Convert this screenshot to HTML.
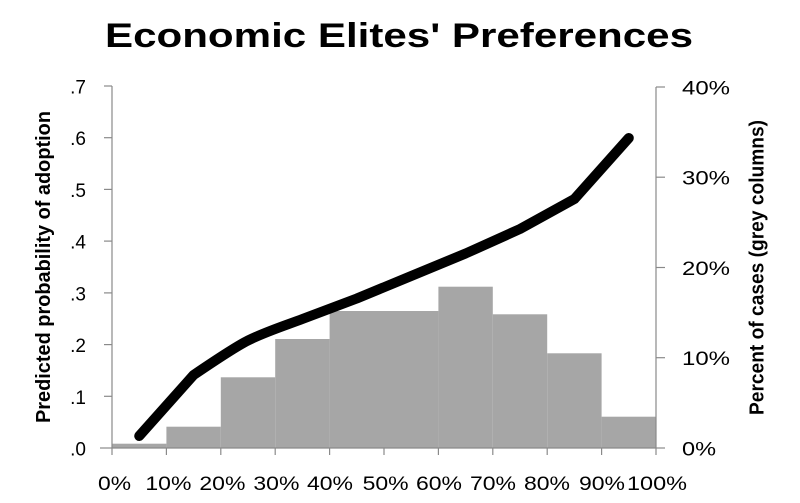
<!DOCTYPE html>
<html>
<head>
<meta charset="utf-8">
<style>
  html, body { margin:0; padding:0; background:#fff; }
  svg { display:block; }
  text { font-family: "Liberation Sans", "DejaVu Sans", sans-serif; fill:#000; }
  .tk { font-size:19px; fill:#111; }
</style>
</head>
<body>
<svg width="800" height="503" viewBox="0 0 800 503" xmlns="http://www.w3.org/2000/svg">
  <rect x="0" y="0" width="800" height="503" fill="#fff"/>

  <!-- Title -->
  <text x="105" y="47" font-size="34" font-weight="bold" textLength="588" lengthAdjust="spacingAndGlyphs">Economic Elites' Preferences</text>

  <!-- Bars -->
  <g fill="#a6a6a6">
    <rect x="112" y="443.7" width="54.4" height="4.3"/>
    <rect x="166.4" y="426.7" width="54.4" height="21.3"/>
    <rect x="220.8" y="377.3" width="54.4" height="70.7"/>
    <rect x="275.2" y="339" width="54.4" height="109"/>
    <rect x="329.6" y="311" width="108.8" height="137"/>
    <rect x="438.4" y="286.7" width="54.4" height="161.3"/>
    <rect x="492.8" y="314.3" width="54.4" height="133.7"/>
    <rect x="547.2" y="353.3" width="54.4" height="94.7"/>
    <rect x="601.6" y="416.7" width="54.4" height="31.3"/>
  </g>

  <!-- Axes -->
  <g stroke="#8a8a8a" stroke-width="1.2" fill="none">
    <line x1="112" y1="86" x2="112" y2="448"/>
    <line x1="104" y1="86" x2="112" y2="86"/>
    <line x1="104" y1="137.7" x2="112" y2="137.7"/>
    <line x1="104" y1="189.4" x2="112" y2="189.4"/>
    <line x1="104" y1="241.1" x2="112" y2="241.1"/>
    <line x1="104" y1="292.9" x2="112" y2="292.9"/>
    <line x1="104" y1="344.6" x2="112" y2="344.6"/>
    <line x1="104" y1="396.3" x2="112" y2="396.3"/>
    <line x1="100" y1="448" x2="112" y2="448"/>
    <line x1="112" y1="448" x2="656" y2="448"/>
    <line x1="112" y1="448" x2="112" y2="455"/>
    <line x1="166.4" y1="448" x2="166.4" y2="455"/>
    <line x1="220.8" y1="448" x2="220.8" y2="455"/>
    <line x1="275.2" y1="448" x2="275.2" y2="455"/>
    <line x1="329.6" y1="448" x2="329.6" y2="455"/>
    <line x1="384" y1="448" x2="384" y2="455"/>
    <line x1="438.4" y1="448" x2="438.4" y2="455"/>
    <line x1="492.8" y1="448" x2="492.8" y2="455"/>
    <line x1="547.2" y1="448" x2="547.2" y2="455"/>
    <line x1="601.6" y1="448" x2="601.6" y2="455"/>
    <line x1="656" y1="448" x2="656" y2="455"/>
    <line x1="656" y1="87" x2="656" y2="448"/>
    <line x1="656" y1="87" x2="665" y2="87"/>
    <line x1="656" y1="177.2" x2="665" y2="177.2"/>
    <line x1="656" y1="267.5" x2="665" y2="267.5"/>
    <line x1="656" y1="357.7" x2="665" y2="357.7"/>
    <line x1="656" y1="448" x2="665" y2="448"/>
  </g>

  <!-- Line series -->
  <path fill="none" stroke="#000" stroke-width="10" stroke-linecap="round" stroke-linejoin="round"
    d="M139.2,436 L193.6,375 C212,362.5 236,346.5 248,340.5 C266,331.5 288,324.5 302.4,319 L356.8,298.5 L411.2,276 L465.6,253.5 L520,229 L574.4,199 L628.8,138"/>

  <!-- Left tick labels -->
  <g class="tk" text-anchor="end">
    <text x="86" y="93.5">.7</text>
    <text x="86" y="145.2">.6</text>
    <text x="86" y="196.9">.5</text>
    <text x="86" y="248.6">.4</text>
    <text x="86" y="300.4">.3</text>
    <text x="86" y="352.1">.2</text>
    <text x="86" y="403.8">.1</text>
    <text x="86" y="455.5">.0</text>
  </g>

  <!-- Right tick labels -->
  <g class="tk">
    <text x="682" y="94.5" textLength="48" lengthAdjust="spacingAndGlyphs">40%</text>
    <text x="682" y="184.7" textLength="48" lengthAdjust="spacingAndGlyphs">30%</text>
    <text x="682" y="275" textLength="48" lengthAdjust="spacingAndGlyphs">20%</text>
    <text x="682" y="365.2" textLength="48" lengthAdjust="spacingAndGlyphs">10%</text>
    <text x="682" y="455.5" textLength="34" lengthAdjust="spacingAndGlyphs">0%</text>
  </g>

  <!-- X tick labels -->
  <g class="tk">
    <text x="98" y="490" textLength="33" lengthAdjust="spacingAndGlyphs">0%</text>
    <text x="145.4" y="490" textLength="46" lengthAdjust="spacingAndGlyphs">10%</text>
    <text x="199.4" y="490" textLength="46" lengthAdjust="spacingAndGlyphs">20%</text>
    <text x="253.4" y="490" textLength="46" lengthAdjust="spacingAndGlyphs">30%</text>
    <text x="307" y="490" textLength="46" lengthAdjust="spacingAndGlyphs">40%</text>
    <text x="362.6" y="490" textLength="46" lengthAdjust="spacingAndGlyphs">50%</text>
    <text x="416" y="490" textLength="46" lengthAdjust="spacingAndGlyphs">60%</text>
    <text x="470" y="490" textLength="46" lengthAdjust="spacingAndGlyphs">70%</text>
    <text x="524" y="490" textLength="46" lengthAdjust="spacingAndGlyphs">80%</text>
    <text x="579" y="490" textLength="46" lengthAdjust="spacingAndGlyphs">90%</text>
    <text x="627" y="490" textLength="60" lengthAdjust="spacingAndGlyphs">100%</text>
  </g>

  <!-- Axis titles -->
  <text transform="translate(50,423) rotate(-90)" x="0" y="0" font-size="20" font-weight="bold" textLength="312" lengthAdjust="spacingAndGlyphs">Predicted probability of adoption</text>
  <text transform="translate(763.5,415) rotate(-90)" x="0" y="0" font-size="20" font-weight="bold" textLength="295" lengthAdjust="spacingAndGlyphs">Percent of cases (grey columns)</text>
</svg>
</body>
</html>
